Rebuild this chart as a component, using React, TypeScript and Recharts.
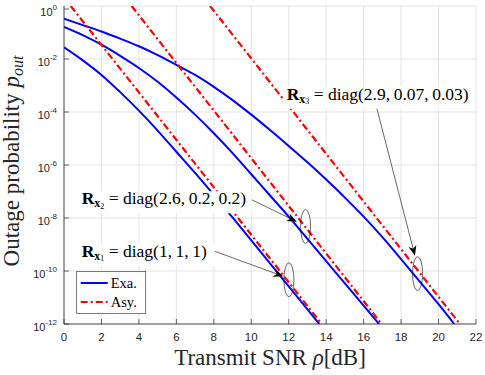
import React from "react";
import {
  LineChart,
  Line,
  XAxis,
  YAxis,
  CartesianGrid,
  ReferenceDot,
  ReferenceLine,
  Label,
} from "recharts";

// axis ticks
const xTicks = [0, 2, 4, 6, 8, 10, 12, 14, 16, 18, 20, 22];
const yTicks = [1e-12, 1e-10, 1e-8, 1e-6, 1e-4, 1e-2, 1];

// exact curves (x in dB, value as log10 of outage probability)
const exa1X = [0, 1, 2, 3, 4, 5, 6, 7, 8, 9, 10, 11, 12, 13, 13.63];
const exa1Exp = [-1.56, -2.05, -2.6, -3.25, -3.95, -4.7, -5.5, -6.3, -7.13, -7.98, -8.84, -9.71, -10.58, -11.45, -12];

const exa2X = [0, 1, 2, 3, 4, 5, 6, 7, 8, 9, 10, 11, 12, 13, 14, 15, 16, 16.82];
const exa2Exp = [-0.79, -1.1, -1.46, -1.88, -2.34, -2.86, -3.45, -4.1, -4.8, -5.55, -6.35, -7.15, -7.95, -8.79, -9.63, -10.47, -11.31, -12];

const exa3X = [0, 1, 2, 3, 4, 5, 6, 7, 8, 9, 10, 11, 12, 13, 14, 15, 16, 17, 18, 19, 20, 20.84];
const exa3Exp = [-0.48, -0.72, -0.96, -1.23, -1.52, -1.85, -2.22, -2.6, -3.05, -3.55, -4.1, -4.68, -5.28, -5.9, -6.55, -7.23, -7.95, -8.72, -9.55, -10.4, -11.25, -12];

// asymptotic lines (straight in dB / log scale)
const asy1X = [0.36, 13.76];
const asy1Exp = [0, -12];
const asy2X = [3.61, 16.96];
const asy2Exp = [0, -12];
const asy3X = [7.8, 21.14];
const asy3Exp = [0, -12];

const BLUE = "#0000ff";
const RED = "#ff0000";
const AXIS = "#262626";
const GRID = "#e3e3e3";
const SANS = '"Liberation Sans", Arial, Helvetica, sans-serif';
const SERIF = '"Liberation Serif", "Times New Roman", serif';
const DASHDOT = "7 3 2 3";

const rows = (xs: number[], es: number[]) =>
  xs.map((x, i) => ({ x, p: Math.pow(10, es[i]) }));

const exa1 = rows(exa1X, exa1Exp);
const exa2 = rows(exa2X, exa2Exp);
const exa3 = rows(exa3X, exa3Exp);
const asy1 = rows(asy1X, asy1Exp);
const asy2 = rows(asy2X, asy2Exp);
const asy3 = rows(asy3X, asy3Exp);

function BottomTick(props: any) {
  const { x, y, payload } = props;
  return (
    <g>
      <line x1={x} y1={y} x2={x} y2={y - 5} stroke={AXIS} strokeWidth={0.7} />
      <text x={x} y={y + 16.5} textAnchor="middle" fontFamily={SANS} fontSize={11.5} fill={AXIS}>
        {payload.value}
      </text>
    </g>
  );
}

function TopTick(props: any) {
  const { x, y } = props;
  return <line x1={x} y1={y} x2={x} y2={y + 5} stroke={AXIS} strokeWidth={0.7} />;
}

function LeftTick(props: any) {
  const { x, y, payload } = props;
  const e = Math.round(Math.log10(payload.value));
  return (
    <g>
      <line x1={x} y1={y} x2={x + 5} y2={y} stroke={AXIS} strokeWidth={0.7} />
      <text x={x - 7} y={y + 7} textAnchor="end" fontFamily={SANS} fontSize={11} fill={AXIS}>
        <tspan>10</tspan>
        <tspan dy={-6.5} fontSize={8}>
          {e}
        </tspan>
      </text>
    </g>
  );
}

function RightTick(props: any) {
  const { x, y } = props;
  return <line x1={x} y1={y} x2={x - 5} y2={y} stroke={AXIS} strokeWidth={0.7} />;
}

function XTitle(props: any) {
  const vb = props.viewBox;
  return (
    <text x={vb.x + vb.width / 2} y={vb.y + 41} textAnchor="middle" fontFamily={SERIF} fontSize={23} fill={AXIS}>
      Transmit SNR <tspan fontStyle="italic">ρ</tspan>[dB]
    </text>
  );
}

function YTitle(props: any) {
  const vb = props.viewBox;
  const cx = 19;
  const cy = vb.y + vb.height / 2 - 4;
  return (
    <text
      x={cx}
      y={cy}
      transform={`rotate(-90, ${cx}, ${cy})`}
      textAnchor="middle"
      fontFamily={SERIF}
      fontSize={23}
      fill={AXIS}
    >
      Outage probability <tspan fontStyle="italic">p</tspan>
      <tspan fontStyle="italic" fontSize={16} dy={4}>
        out
      </tspan>
    </text>
  );
}

function boxLabel(sub: string, rest: string, w: number) {
  return (props: any) => {
    const { cx, cy } = props;
    return (
      <g>
        <rect x={cx - 3} y={cy - 13} width={w} height={22} fill="#fff" />
        <text x={cx} y={cy} fontFamily={SERIF} fontSize={17.5} fill="#000">
          <tspan fontWeight="bold">R</tspan>
          <tspan fontWeight="bold" fontSize={12} dy={3}>
            x
          </tspan>
          <tspan fontSize={8} dy={1.5}>
            {sub}
          </tspan>
          <tspan dy={-4.5}>{rest}</tspan>
        </text>
      </g>
    );
  };
}

function Ring(props: any) {
  const { cx, cy } = props;
  return <ellipse cx={cx} cy={cy} rx={5} ry={17} fill="none" stroke="#000" strokeWidth={0.6} />;
}

function Arrow(props: any) {
  const { x1, y1, x2, y2 } = props;
  const a = Math.atan2(y2 - y1, x2 - x1);
  const len = 10;
  const hw = 4;
  const bx = x2 - len * Math.cos(a);
  const by = y2 - len * Math.sin(a);
  const nx = x2 - len * 0.7 * Math.cos(a);
  const ny = y2 - len * 0.7 * Math.sin(a);
  const px = -Math.sin(a) * hw;
  const py = Math.cos(a) * hw;
  return (
    <g>
      <line x1={x1} y1={y1} x2={nx} y2={ny} stroke="#000" strokeWidth={0.6} />
      <polygon
        points={`${x2},${y2} ${bx + px},${by + py} ${nx},${ny} ${bx - px},${by - py}`}
        fill="#000"
      />
    </g>
  );
}

function LegendBox(props: any) {
  const { cx, cy } = props;
  return (
    <g>
      <rect x={cx} y={cy} width={69} height={42} fill="#fff" stroke={AXIS} strokeWidth={0.6} />
      <line x1={cx + 4} y1={cy + 11.5} x2={cx + 31} y2={cy + 11.5} stroke={BLUE} strokeWidth={2} />
      <line
        x1={cx + 4}
        y1={cy + 30.5}
        x2={cx + 31}
        y2={cy + 30.5}
        stroke={RED}
        strokeWidth={2}
        strokeDasharray={DASHDOT}
      />
      <text x={cx + 34} y={cy + 16.5} fontFamily={SERIF} fontSize={14.5} fill="#000">
        Exa.
      </text>
      <text x={cx + 34} y={cy + 35.5} fontFamily={SERIF} fontSize={14.5} fill="#000">
        Asy.
      </text>
    </g>
  );
}

export default function App() {
  return (
    <div style={{ position: "absolute", left: 0, top: 0, background: "#fff" }}>
      <LineChart width={485} height={375} margin={{ top: 6, right: 9, bottom: 0, left: 0 }}>
        <CartesianGrid stroke={GRID} strokeWidth={1} />
        <XAxis
          dataKey="x"
          type="number"
          domain={[0, 22]}
          ticks={xTicks}
          allowDataOverflow
          height={51}
          tickSize={0}
          tickMargin={0}
          tickLine={false}
          tick={<BottomTick />}
          axisLine={{ stroke: AXIS, strokeWidth: 0.8 }}
        >
          <Label content={<XTitle />} />
        </XAxis>
        <XAxis
          xAxisId="top"
          orientation="top"
          dataKey="x"
          type="number"
          domain={[0, 22]}
          ticks={xTicks}
          allowDataOverflow
          height={0}
          tickSize={0}
          tickMargin={0}
          tickLine={false}
          tick={<TopTick />}
          axisLine={{ stroke: AXIS, strokeWidth: 0.8 }}
        />
        <YAxis
          scale="log"
          type="number"
          domain={[1e-12, 1]}
          ticks={yTicks}
          allowDataOverflow
          width={64}
          tickSize={0}
          tickMargin={0}
          tickLine={false}
          tick={<LeftTick />}
          axisLine={{ stroke: AXIS, strokeWidth: 0.8 }}
        >
          <Label content={<YTitle />} />
        </YAxis>
        <YAxis
          yAxisId="right"
          orientation="right"
          scale="log"
          type="number"
          domain={[1e-12, 1]}
          ticks={yTicks}
          allowDataOverflow
          width={0}
          tickSize={0}
          tickMargin={0}
          tickLine={false}
          tick={<RightTick />}
          axisLine={{ stroke: AXIS, strokeWidth: 0.8 }}
        />

        <Line data={exa1} dataKey="p" type="monotone" stroke={BLUE} strokeWidth={2} dot={false} isAnimationActive={false} />
        <Line data={exa2} dataKey="p" type="monotone" stroke={BLUE} strokeWidth={2} dot={false} isAnimationActive={false} />
        <Line data={exa3} dataKey="p" type="monotone" stroke={BLUE} strokeWidth={2} dot={false} isAnimationActive={false} />
        <Line data={asy1} dataKey="p" type="linear" stroke={RED} strokeWidth={2.2} strokeDasharray={DASHDOT} dot={false} isAnimationActive={false} />
        <Line data={asy2} dataKey="p" type="linear" stroke={RED} strokeWidth={2.2} strokeDasharray={DASHDOT} dot={false} isAnimationActive={false} />
        <Line data={asy3} dataKey="p" type="linear" stroke={RED} strokeWidth={2.2} strokeDasharray={DASHDOT} dot={false} isAnimationActive={false} />

        <ReferenceLine segment={[{ x: 16.7, y: 10 ** -3.85 }, { x: 18.74, y: 10 ** -9.42 }]} shape={<Arrow />} zIndex={2100} />
        <ReferenceLine segment={[{ x: 10.02, y: 10 ** -7.31 }, { x: 12.44, y: 10 ** -8.14 }]} shape={<Arrow />} zIndex={2100} />
        <ReferenceLine segment={[{ x: 8.06, y: 10 ** -9.26 }, { x: 11.71, y: 10 ** -10.2 }]} shape={<Arrow />} zIndex={2100} />

        <ReferenceDot x={12.01} y={10 ** -10.33} r={0} shape={<Ring />} zIndex={2100} />
        <ReferenceDot x={12.9} y={10 ** -8.32} r={0} shape={<Ring />} zIndex={2100} />
        <ReferenceDot x={18.88} y={10 ** -10.1} r={0} shape={<Ring />} zIndex={2100} />

        <ReferenceDot x={11.89} y={10 ** -3.54} r={0} shape={boxLabel("3", "\u00a0=\u00a0diag(2.9,\u20090.07,\u20090.03)", 190)} zIndex={2200} />
        <ReferenceDot x={0.945} y={10 ** -7.48} r={0} shape={boxLabel("2", "\u00a0=\u00a0diag(2.6,\u20090.2,\u20090.2)", 173)} zIndex={2200} />
        <ReferenceDot x={0.945} y={10 ** -9.46} r={0} shape={boxLabel("1", "\u00a0=\u00a0diag(1,\u20091,\u20091)", 136)} zIndex={2200} />

        <ReferenceDot x={0.68} y={10 ** -10.02} r={0} shape={<LegendBox />} zIndex={2300} />
      </LineChart>
    </div>
  );
}
